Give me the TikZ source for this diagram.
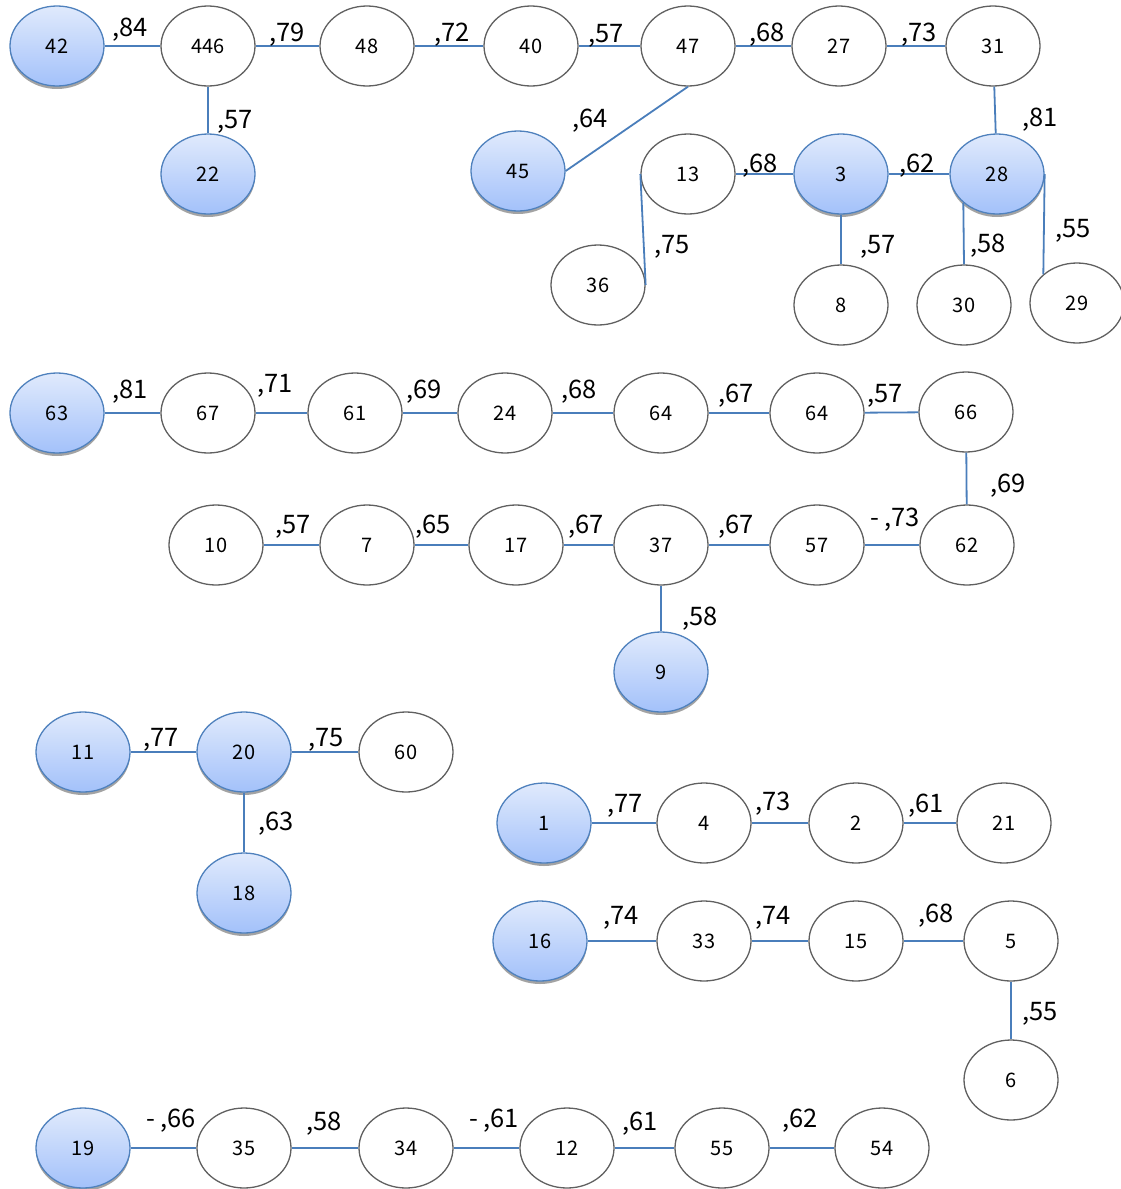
\documentclass[tikz,border=0pt]{standalone}
\usepackage{fontspec}
\setmainfont{Noto Sans CJK JP}
\usetikzlibrary{shapes.geometric,shadows}
\definecolor{edgeblue}{HTML}{4A7EBB}
\definecolor{nodeborder}{HTML}{606060}
\definecolor{blueborder}{HTML}{4F81BD}
\definecolor{bluetop}{HTML}{E0EAFC}
\definecolor{bluebot}{HTML}{A3C1FA}
\tikzset{
  vnode/.style={ellipse,draw=nodeborder,line width=1.3pt,fill=white,minimum width=94pt,minimum height=80pt,inner sep=0pt,font=\fontsize{20}{20}\selectfont},
  bnode/.style={vnode,draw=blueborder,top color=bluetop,bottom color=bluebot,drop shadow={shadow xshift=0pt,shadow yshift=-3pt,fill=black!45,opacity=0.8}},
  lbl/.style={inner sep=0pt,font=\fontsize{25.5}{25.5}\selectfont},
  edge/.style={draw=edgeblue,line width=1.8pt}
}
\begin{document}
\begin{tikzpicture}[x=1pt,y=-1pt]
\useasboundingbox (0,0) rectangle (1121,1189);
% ---- group 1
\node[bnode] (n42) at (57,46) {42};
\node[vnode] (n446) at (208,46) {446};
\node[vnode] (n48) at (367,46) {48};
\node[vnode] (n40) at (531,46) {40};
\node[vnode] (n47) at (688,46) {47};
\node[vnode] (n27) at (839,46) {27};
\node[vnode] (n31) at (993,46) {31};
\node[bnode] (n22) at (208,174) {22};
\node[bnode] (n45) at (518,171) {45};
\node[vnode] (n13) at (688,174) {13};
\node[bnode] (n3) at (841,174) {3};
\node[bnode] (n28) at (997,174) {28};
\node[vnode] (n36) at (598,285) {36};
\node[vnode] (n8) at (841,305) {8};
\node[vnode] (n30) at (964,305) {30};
\node[vnode] (n29) at (1077,303) {29};
\draw[edge] (n42) -- (n446);
\draw[edge] (n446) -- (n48);
\draw[edge] (n48) -- (n40);
\draw[edge] (n40) -- (n47);
\draw[edge] (n47) -- (n27);
\draw[edge] (n27) -- (n31);
\draw[edge] (n446) -- (n22);
\draw[edge] (n47.south) -- (n45.east);
\draw[edge] (n31) -- (n28);
\draw[edge] (n13) -- (n3);
\draw[edge] (n3) -- (n28);
\draw[edge] (n3) -- (n8);
\draw[edge] (n13.west) -- (n36.east);
\draw[edge] (n28.south west) -- (n30.north);
\draw[edge] (n28.east) -- (n29.north west);
\node[lbl] (l1) at (130,30) {,84};
\node[lbl] (l2) at (287,35) {,79};
\node[lbl] (l3) at (452,35) {,72};
\node[lbl] (l4) at (606,36) {,57};
\node[lbl] (l5) at (767,35) {,68};
\node[lbl] (l6) at (919,35) {,73};
\node[lbl] (l7) at (235,122) {,57};
\node[lbl] (l8) at (590,121) {,64};
\node[lbl] (l9) at (1040,120) {,81};
\node[lbl] (l10) at (760,166) {,68};
\node[lbl] (l11) at (917,166) {,62};
\node[lbl] (l12) at (878,247) {,57};
\node[lbl] (l13) at (672,247) {,75};
\node[lbl] (l14) at (988,246) {,58};
\node[lbl] (l15) at (1073,231) {,55};
% ---- group 2
\node[bnode] (n63) at (57,413) {63};
\node[vnode] (n67) at (208,413) {67};
\node[vnode] (n61) at (355,413) {61};
\node[vnode] (n24) at (505,413) {24};
\node[vnode] (n64a) at (661,413) {64};
\node[vnode] (n64b) at (817,413) {64};
\node[vnode] (n66) at (966,412) {66};
\node[vnode] (n10) at (216,545) {10};
\node[vnode] (n7) at (367,545) {7};
\node[vnode] (n17) at (516,545) {17};
\node[vnode] (n37) at (661,545) {37};
\node[vnode] (n57) at (817,545) {57};
\node[vnode] (n62) at (967,545) {62};
\node[bnode] (n9) at (661,672) {9};
\draw[edge] (n63) -- (n67);
\draw[edge] (n67) -- (n61);
\draw[edge] (n61) -- (n24);
\draw[edge] (n24) -- (n64a);
\draw[edge] (n64a) -- (n64b);
\draw[edge] (n64b) -- (n66);
\draw[edge] (n66) -- (n62);
\draw[edge] (n10) -- (n7);
\draw[edge] (n7) -- (n17);
\draw[edge] (n17) -- (n37);
\draw[edge] (n37) -- (n57);
\draw[edge] (n57) -- (n62);
\draw[edge] (n37) -- (n9);
\node[lbl] (m1) at (130,392) {,81};
\node[lbl] (m2) at (275,386) {,71};
\node[lbl] (m3) at (424,392) {,69};
\node[lbl] (m4) at (579,392) {,68};
\node[lbl] (m5) at (736,396) {,67};
\node[lbl] (m6) at (885,396) {,57};
\node[lbl] (m7) at (1008,486) {,69};
\node[lbl] (m8) at (293,527) {,57};
\node[lbl] (m9) at (433,527) {,65};
\node[lbl] (m10) at (586,527) {,67};
\node[lbl] (m11) at (736,527) {,67};
\node[lbl] (m12) at (895,520) {- ,73};
\node[lbl] (m13) at (700,619) {,58};
% ---- group 3
\node[bnode] (n11) at (83,752) {11};
\node[bnode] (n20) at (244,752) {20};
\node[vnode] (n60) at (406,752) {60};
\node[bnode] (n18) at (244,893) {18};
\draw[edge] (n11) -- (n20);
\draw[edge] (n20) -- (n60);
\draw[edge] (n20) -- (n18);
\node[lbl] (k1) at (161,740) {,77};
\node[lbl] (k2) at (326,740) {,75};
\node[lbl] (k3) at (276,824) {,63};
% ---- group 4
\node[bnode] (n1) at (544,823) {1};
\node[vnode] (n4) at (704,823) {4};
\node[vnode] (n2) at (856,823) {2};
\node[vnode] (n21) at (1004,823) {21};
\draw[edge] (n1) -- (n4);
\draw[edge] (n4) -- (n2);
\draw[edge] (n2) -- (n21);
\node[lbl] (p1) at (625,806) {,77};
\node[lbl] (p2) at (773,804) {,73};
\node[lbl] (p3) at (926,806) {,61};
% ---- group 5
\node[bnode] (n16) at (540,941) {16};
\node[vnode] (n33) at (704,941) {33};
\node[vnode] (n15) at (856,941) {15};
\node[vnode] (n5) at (1011,941) {5};
\node[vnode] (n6) at (1011,1080) {6};
\draw[edge] (n16) -- (n33);
\draw[edge] (n33) -- (n15);
\draw[edge] (n15) -- (n5);
\draw[edge] (n5) -- (n6);
\node[lbl] (q1) at (621,918) {,74};
\node[lbl] (q2) at (773,918) {,74};
\node[lbl] (q3) at (936,916) {,68};
\node[lbl] (q4) at (1040,1014) {,55};
% ---- group 6
\node[bnode] (n19) at (83,1148) {19};
\node[vnode] (n35) at (244,1148) {35};
\node[vnode] (n34) at (406,1148) {34};
\node[vnode] (n12) at (567,1148) {12};
\node[vnode] (n55) at (722,1148) {55};
\node[vnode] (n54) at (882,1148) {54};
\draw[edge] (n19) -- (n35);
\draw[edge] (n35) -- (n34);
\draw[edge] (n34) -- (n12);
\draw[edge] (n12) -- (n55);
\draw[edge] (n55) -- (n54);
\node[lbl] (r1) at (171,1121) {- ,66};
\node[lbl] (r2) at (324,1124) {,58};
\node[lbl] (r3) at (494,1121) {- ,61};
\node[lbl] (r4) at (640,1124) {,61};
\node[lbl] (r5) at (800,1121) {,62};
\end{tikzpicture}
\end{document}
